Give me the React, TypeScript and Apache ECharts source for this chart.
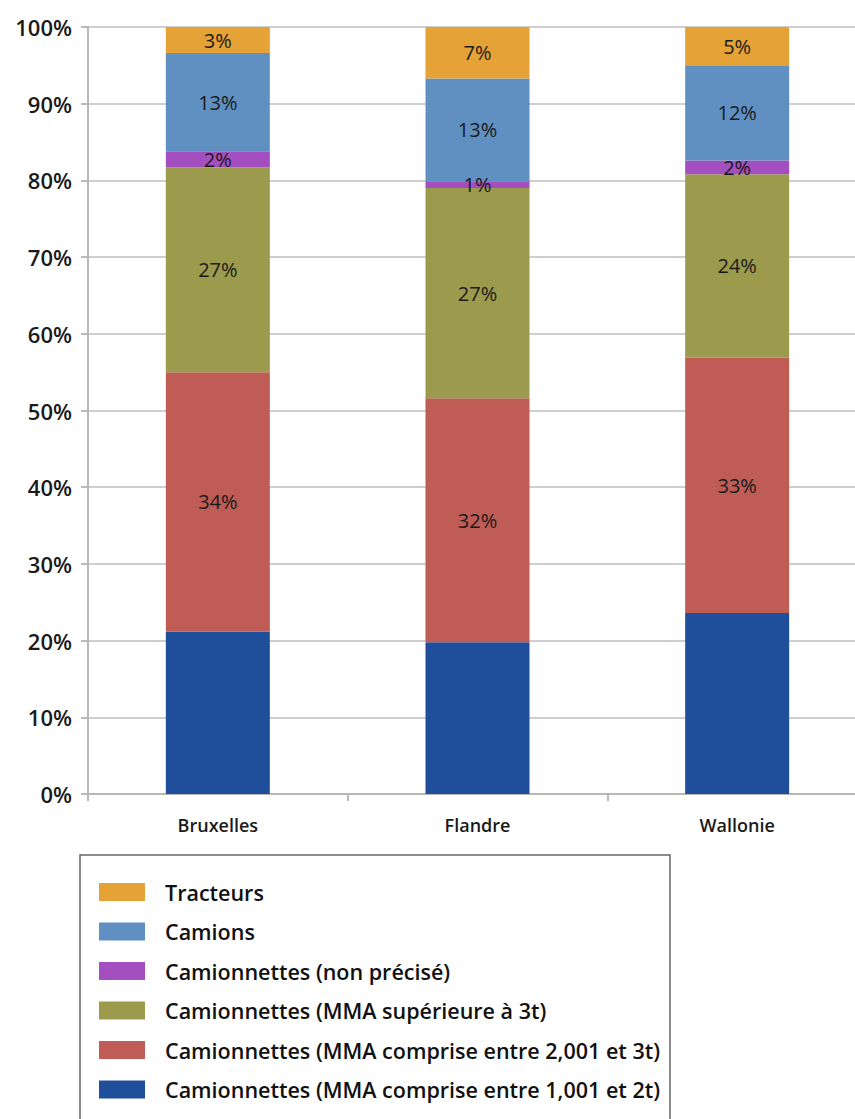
import React, { useEffect, useRef } from "react";
import * as echarts from "echarts";

const categories = ["Bruxelles", "Flandre", "Wallonie"];
const seriesNames = [
  "Camionnettes (MMA comprise entre 1,001 et 2t)",
  "Camionnettes (MMA comprise entre 2,001 et 3t)",
  "Camionnettes (MMA supérieure à 3t)",
  "Camionnettes (non précisé)",
  "Camions",
  "Tracteurs",
];
const lightVans = [21.2, 19.8, 23.6];
const mediumVans = [33.8, 31.8, 33.3];
const heavyVans = [26.7, 27.4, 23.9];
const unspecifiedVans = [2.1, 0.9, 1.8];
const trucks = [12.8, 13.4, 12.4];
const tractors = [3.4, 6.7, 5.0];
const seriesValues = [lightVans, mediumVans, heavyVans, unspecifiedVans, trucks, tractors];
const seriesColors = ["#1F4E9A", "#BE5C55", "#9C9A4C", "#A34FC0", "#6090C2", "#E5A236"];
const showLabels = [false, true, true, true, true, true];

export default function App() {
  const ref = useRef<HTMLDivElement>(null);
  useEffect(() => {
    if (!ref.current) return;
    const chart = echarts.init(ref.current, null, { renderer: "svg" });
    const font = "'Open Sans', sans-serif";
    chart.setOption({
      animation: false,
      grid: { left: 88, right: 0, top: 27, bottom: 325, containLabel: false },
      xAxis: {
        type: "category",
        data: categories,
        axisLine: { lineStyle: { color: "#b8b8b8", width: 2 } },
        axisTick: { show: true, length: 7, lineStyle: { color: "#b8b8b8", width: 2 } },
        axisLabel: { color: "#1a1a1a", fontSize: 18, fontFamily: font, fontWeight: 600, margin: 22 },
      },
      yAxis: {
        type: "value",
        min: 0,
        max: 100,
        interval: 10,
        axisLine: { show: true, lineStyle: { color: "#b8b8b8", width: 2 } },
        axisTick: { show: true, length: 7, lineStyle: { color: "#b8b8b8", width: 2 } },
        splitLine: { lineStyle: { color: "#cfcfcf", width: 2 } },
        axisLabel: {
          color: "#1a1a1a",
          fontSize: 22,
          fontFamily: font,
          fontWeight: 600,
          margin: 16,
          formatter: (v: number) => v + "%",
        },
      },
      legend: {
        orient: "vertical",
        left: 94,
        top: 876,
        height: 400,
        width: 600,
        itemWidth: 46,
        itemHeight: 18,
        itemGap: 17.5,
        icon: "rect",
        data: seriesNames.slice().reverse(),
        textStyle: {
          color: "#111",
          fontSize: 21.5,
          fontFamily: font,
          fontWeight: 600,
          padding: [0, 0, 0, 15],
        },
      },
      graphic: [
        {
          type: "rect",
          shape: { x: 80, y: 855, width: 590, height: 300 },
          style: { fill: "none", stroke: "#666", lineWidth: 1.5 },
          z: -1,
        },
      ],
      series: seriesNames.map((name, i) => ({
        name,
        type: "bar",
        stack: "total",
        barWidth: 104,
        data: seriesValues[i],
        itemStyle: { color: seriesColors[i] },
        label: {
          show: showLabels[i],
          position: "inside",
          color: "#1a1a1a",
          fontSize: 20,
          fontFamily: font,
          fontWeight: 500,
          formatter: (p: any) => Math.round(p.value) + "%",
        },
      })),
    });
    return () => chart.dispose();
  }, []);
  return (
    <div style={{ position: "fixed", left: 0, top: 0, width: 855, height: 1119, overflow: "hidden", background: "#fff" }}>
      <div ref={ref} style={{ width: 867, height: 1119 }} />
    </div>
  );
}
